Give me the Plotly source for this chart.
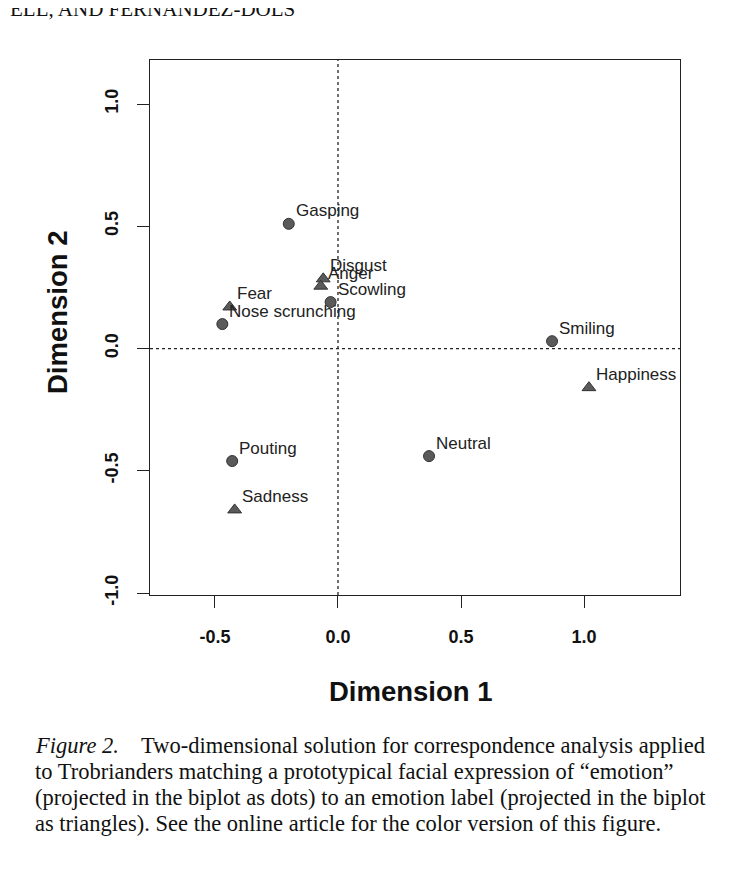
import plotly.graph_objects as go

# Facial expressions (dots)
dot_labels = ["Gasping", "Scowling", "Nose scrunching", "Smiling", "Pouting", "Neutral"]
dot_x = [-0.20, -0.03, -0.47, 0.87, -0.43, 0.37]
dot_y = [0.51, 0.19, 0.10, 0.03, -0.46, -0.44]

# Emotion labels (triangles)
tri_labels = ["Disgust", "Anger", "Fear", "Happiness", "Sadness"]
tri_x = [-0.06, -0.07, -0.44, 1.02, -0.42]
tri_y = [0.285, 0.255, 0.17, -0.16, -0.66]

x_ticks = [-0.5, 0.0, 0.5, 1.0]
y_ticks = [-1.0, -0.5, 0.0, 0.5, 1.0]
x_tick_text = ["-0.5", "0.0", "0.5", "1.0"]
y_tick_text = ["-1.0", "-0.5", "0.0", "0.5", "1.0"]

caption_lines = [
    "<i>Figure 2.</i>    Two-dimensional solution for correspondence analysis applied",
    "to Trobrianders matching a prototypical facial expression of \u201cemotion\u201d",
    "(projected in the biplot as dots) to an emotion label (projected in the biplot",
    "as triangles). See the online article for the color version of this figure.",
]

W, H = 747, 874
OFF = 8  # page body margin
L, T = 150 - OFF, 60 - OFF
R = W - (680 - OFF)
B = H - (595 - OFF)
PW, PH = W - L - R, H - T - B


def px(xp):
    return (xp - OFF - L) / PW


def py(yp):
    return (H - B - (yp - OFF)) / PH


LABEL_FONT = dict(family="Liberation Sans, Arial", size=17, color="#222")

fig = go.Figure()
fig.add_trace(go.Scatter(
    x=dot_x, y=dot_y, mode="markers",
    marker=dict(symbol="circle", size=11, color="#5a5a5a", line=dict(color="#333", width=1)),
    showlegend=False, cliponaxis=False,
))
fig.add_trace(go.Scatter(
    x=tri_x, y=tri_y, mode="markers",
    marker=dict(symbol="triangle-up", size=12, color="#5a5a5a", line=dict(color="#333", width=1)),
    showlegend=False, cliponaxis=False,
))

fig.add_shape(type="line", xref="x", yref="paper", x0=0, x1=0, y0=0, y1=1,
              line=dict(color="#222", width=1.3, dash="dot"), layer="below")
fig.add_shape(type="line", xref="paper", yref="y", x0=0, x1=1, y0=0, y1=0,
              line=dict(color="#222", width=1.3, dash="dot"), layer="below")

axis_common = dict(
    showgrid=False, zeroline=False, showline=True, mirror=True,
    linecolor="#222", linewidth=1, ticks="outside", ticklen=12, tickcolor="#222",
    tickfont=dict(family="Liberation Sans, Arial", size=18, color="#111", weight="bold"),
)
fig.update_xaxes(range=[-0.764, 1.39], tickvals=x_ticks, ticktext=x_tick_text,
                 ticklabelstandoff=13, **axis_common)
fig.update_yaxes(range=[-1.008, 1.18], tickvals=y_ticks, ticktext=y_tick_text,
                 tickangle=-90, ticklabelstandoff=12, **axis_common)

annotations = []
for xs, ys, labs in ((dot_x, dot_y, dot_labels), (tri_x, tri_y, tri_labels)):
    for xv, yv, lab in zip(xs, ys, labs):
        annotations.append(dict(
            text=lab, x=xv, y=yv, xref="x", yref="y", showarrow=False,
            xanchor="left", yanchor="middle", xshift=5, yshift=13, font=LABEL_FONT,
        ))

annotations += [
    dict(text="<b>Dimension 1</b>", x=px(411), y=py(691), xref="paper", yref="paper",
         showarrow=False, font=dict(family="Liberation Sans, Arial", size=27.5, color="#111"),
         xanchor="center", yanchor="middle"),
    dict(text="<b>Dimension 2</b>", x=px(57), y=py(312), xref="paper", yref="paper",
         showarrow=False, textangle=-90,
         font=dict(family="Liberation Sans, Arial", size=27.5, color="#111"),
         xanchor="center", yanchor="middle"),
    dict(text="ELL, AND FERNANDEZ-DOLS", x=px(8), y=py(9), xref="paper", yref="paper",
         showarrow=False, font=dict(family="Liberation Serif, Times New Roman", size=21, color="#111"),
         xanchor="left", yanchor="middle"),
]
for i, line in enumerate(caption_lines):
    annotations.append(dict(
        text=line, x=px(33), y=py(745 + 26 * i), xref="paper", yref="paper",
        showarrow=False, font=dict(family="Liberation Serif, Times New Roman", size=22.5, color="#111"),
        xanchor="left", yanchor="middle", align="left",
    ))

fig.update_layout(
    width=W, height=H, margin=dict(l=L, r=R, t=T, b=B),
    paper_bgcolor="white", plot_bgcolor="white",
    annotations=annotations,
)

fig.write_html("out.html")
